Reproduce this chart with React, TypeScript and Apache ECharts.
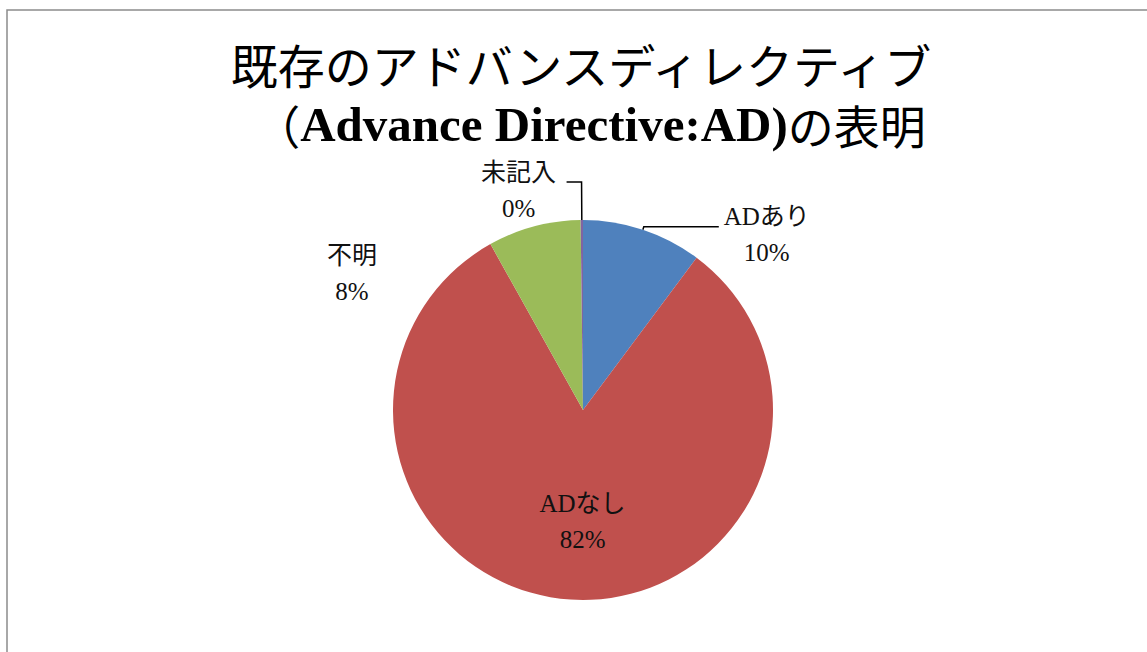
import React, { useEffect, useRef } from 'react';
import * as echarts from 'echarts';

const categories = ['ADあり', 'ADなし', '不明', '未記入'];
const values = [10.2, 81.7, 7.9, 0.2];
const colors = ['#4F81BD', '#C0504D', '#9BBB59', '#8064A2'];
const titleLine1 = '既存のアドバンスディレクティブ';
const titleLine2 = ['（', 'Advance Directive:AD)', 'の表明'];

const SERIF = "'Liberation Serif', 'Noto Sans CJK JP', serif";
const CJK = "'Noto Sans CJK JP', sans-serif";

export default function App() {
  const ref = useRef<HTMLDivElement>(null);
  useEffect(() => {
    const chart = echarts.init(ref.current!, null, { renderer: 'svg' });
    const itemOpts: Record<string, any> = {
      'ADあり': { label: { padding: [16, 0, 0, 0] }, labelLine: { show: true, length: 3, length2: 75 } },
      'ADなし': { label: { position: 'inside' }, labelLine: { show: false } },
      '不明': { labelLine: { show: false } },
      '未記入': { label: { padding: [16, 0, 0, 0] }, labelLine: { show: true, length: 38, length2: 15 } },
    };
    const data = categories.map((name, i) => ({
      name,
      value: values[i],
      itemStyle: { color: colors[i] },
      ...itemOpts[name],
    }));
    chart.setOption({
      animation: false,
      backgroundColor: '#ffffff',
      title: [
        {
          text: titleLine1,
          left: 581,
          top: 40,
          textAlign: 'center',
          padding: 0,
          textStyle: { fontFamily: CJK, fontSize: 47, fontWeight: 'normal', color: '#000', lineHeight: 46 },
        },
        {
          text: `{c|${titleLine2[0]}}{b|${titleLine2[1]}}{c|${titleLine2[2]}}`,
          left: 590,
          top: 101,
          textAlign: 'center',
          padding: 0,
          textStyle: {
            lineHeight: 46,
            rich: {
              c: { fontFamily: CJK, fontSize: 46, fontWeight: 'normal', color: '#000', lineHeight: 46 },
              b: { fontFamily: SERIF, fontSize: 49, fontWeight: 'bold', color: '#000', lineHeight: 46 },
            },
          },
        },
      ],
      graphic: [
        {
          type: 'rect',
          shape: { x: 7, y: 10, width: 1400, height: 900 },
          style: { fill: 'none', stroke: '#8c8c8c', lineWidth: 1.5 },
          silent: true,
        },
      ],
      series: [
        {
          type: 'pie',
          center: [583, 410],
          radius: 190,
          startAngle: 90,
          clockwise: true,
          percentPrecision: 0,
          avoidLabelOverlap: false,
          itemStyle: { borderWidth: 0 },
          emphasis: { disabled: true },
          label: {
            show: true,
            position: 'outside',
            formatter: '{t|{b}}\n{t|{d}%}',
            distanceToLabelLine: 5,
            rich: {
              t: { fontFamily: SERIF, fontSize: 25, color: '#111', lineHeight: 36, width: 86, align: 'center' },
            },
          },
          labelLine: { show: true, lineStyle: { color: '#000', width: 1.5 } },
          labelLayout: (p: any) => {
            const name = categories[p.dataIndex];
            if (name === 'ADなし') return { dx: 6, dy: 14 };
            if (name === '不明') return { x: 352, y: 273, align: 'center', verticalAlign: 'middle' };
            return {};
          },
          data,
        },
      ],
    });
    return () => chart.dispose();
  }, []);
  return (
    <div
      ref={ref}
      style={{ position: 'fixed', left: 0, top: 0, width: 1147, height: 652, background: '#fff' }}
    />
  );
}
